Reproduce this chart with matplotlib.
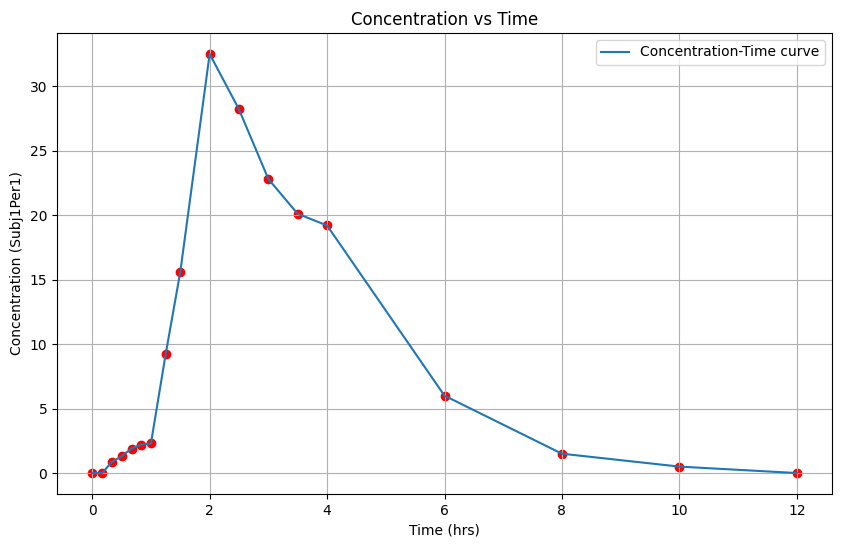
import matplotlib
matplotlib.use('Agg')
import matplotlib.pyplot as plt

time = [0, 0.17, 0.33, 0.5, 0.67, 0.83, 1.0, 1.25, 1.5, 2, 2.5, 3, 3.5, 4, 6, 8, 10, 12]
conc = [0, 0, 0.85, 1.3, 1.9, 2.2, 2.3, 9.2, 15.6, 32.5, 28.2, 22.8, 20.1, 19.2, 6.0, 1.5, 0.5, 0.0]

fig = plt.figure(figsize=(8.41, 5.47), dpi=100)
ax = fig.add_axes([57/841, 53/547, 775/841, 461/547])
ax.plot(time, conc, label='Concentration-Time curve')
ax.scatter(time, conc, color='red')
ax.set_title('Concentration vs Time')
ax.set_xlabel('Time (hrs)')
ax.set_ylabel('Concentration (Subj1Per1)')
ax.legend()
ax.grid(True)
fig.savefig('out.png', dpi=100)
